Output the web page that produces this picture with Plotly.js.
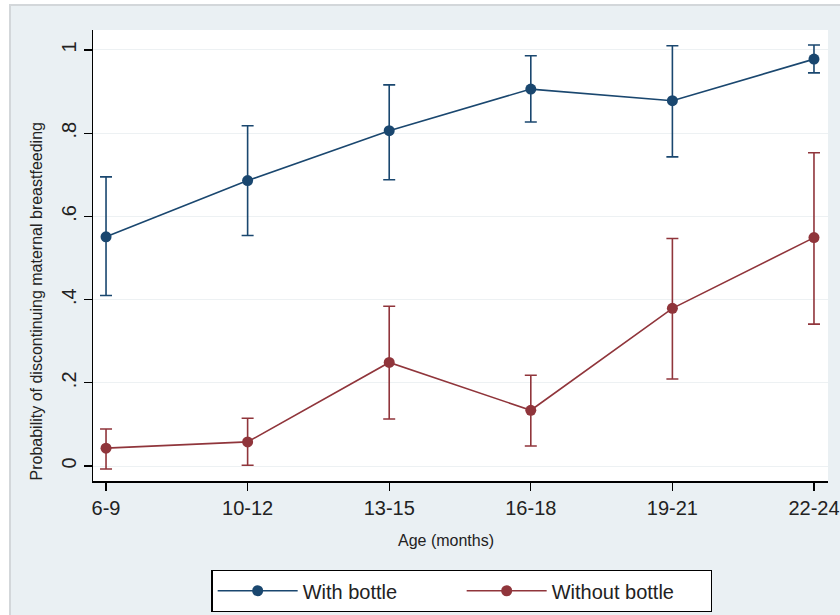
<!DOCTYPE html>
<html>
<head>
<meta charset="utf-8">
<script src="https://cdn.plot.ly/plotly-3.0.1.min.js"></script>
<style>
html,body{margin:0;padding:0;background:#ffffff;width:840px;height:615px;overflow:hidden;}
#frame{position:absolute;left:9px;top:4px;width:831px;height:611px;border-top:2px solid #d3d7da;border-left:2px solid #d3d7da;box-sizing:border-box;}
#chart{position:absolute;left:0;top:0;width:829px;height:609px;}
</style>
</head>
<body>
<div id="frame"><div id="chart"></div></div>
<script>
var categories = ["6-9", "10-12", "13-15", "16-18", "19-21", "22-24"];
var withBottle = [0.551, 0.686, 0.806, 0.906, 0.878, 0.978];
var withBottleUpper = [0.695, 0.818, 0.916, 0.986, 1.010, 1.012];
var withBottleLower = [0.410, 0.554, 0.688, 0.827, 0.743, 0.945];
var withoutBottle = [0.043, 0.058, 0.249, 0.134, 0.379, 0.549];
var withoutBottleUpper = [0.089, 0.115, 0.384, 0.218, 0.547, 0.753];
var withoutBottleLower = [-0.007, 0.002, 0.113, 0.048, 0.209, 0.341];
var yTickVals = [0, 0.2, 0.4, 0.6, 0.8, 1];
var yTickText = ["0", ".2", ".4", ".6", ".8", "1"];
var xTitle = "Age (months)";
var yTitle = "Probability of discontinuing maternal breastfeeding";

var xIdx = categories.map(function(c, i){ return i; });
function plus(v, u){ return u.map(function(x, i){ return x - v[i]; }); }
function minus(v, l){ return l.map(function(x, i){ return v[i] - x; }); }

var navy = "#1a476f", maroon = "#90353b";

var traces = [
  {
    x: xIdx, y: withBottle, name: "With bottle", type: "scatter", mode: "lines+markers",
    line: {color: navy, width: 1.6}, marker: {color: navy, size: 11},
    error_y: {type: "data", symmetric: false, array: plus(withBottle, withBottleUpper),
      arrayminus: minus(withBottle, withBottleLower), color: navy, thickness: 1.6, width: 6}
  },
  {
    x: xIdx, y: withoutBottle, name: "Without bottle", type: "scatter", mode: "lines+markers",
    line: {color: maroon, width: 1.6}, marker: {color: maroon, size: 11},
    error_y: {type: "data", symmetric: false, array: plus(withoutBottle, withoutBottleUpper),
      arrayminus: minus(withoutBottle, withoutBottleLower), color: maroon, thickness: 1.6, width: 6}
  }
];

var layout = {
  width: 829, height: 609,
  paper_bgcolor: "#eaf0f3", plot_bgcolor: "#ffffff",
  margin: {l: 82, r: 12, t: 24, b: 134},
  font: {family: "Liberation Sans, Arial, sans-serif", color: "#222"},
  xaxis: {
    range: [-0.092, 5.099], tickvals: xIdx, ticktext: categories,
    showgrid: false, zeroline: false, showline: true, linecolor: "#000", linewidth: 1.5,
    ticks: "outside", ticklen: 8, tickwidth: 1.3, tickcolor: "#000",
    tickfont: {size: 20, color: "#222"}, automargin: false
  },
  yaxis: {
    range: [-0.036, 1.048], tickvals: yTickVals, ticktext: yTickText, tickangle: -90,
    showgrid: true, gridcolor: "#edf1f3", gridwidth: 1, zeroline: false,
    showline: true, linecolor: "#000", linewidth: 1.5,
    ticks: "outside", ticklen: 8, tickwidth: 1.3, tickcolor: "#000",
    tickfont: {size: 20, color: "#222"}, automargin: false
  },
  annotations: [
    {text: xTitle, xref: "paper", yref: "paper", x: 0.480, y: -0.133,
      xanchor: "center", yanchor: "middle", showarrow: false, font: {size: 16, color: "#222"}},
    {text: yTitle, xref: "paper", yref: "paper", x: -0.0762, y: 0.398, textangle: -90,
      xanchor: "center", yanchor: "middle", showarrow: false, font: {size: 16, color: "#222"}}
  ],
  showlegend: true,
  legend: {
    orientation: "h", x: 0.502, xanchor: "center", yref: "container", y: 0.0738, yanchor: "top",
    bgcolor: "#ffffff", bordercolor: "#000", borderwidth: 1.2,
    font: {size: 20, color: "#222"}, itemwidth: 80,
    entrywidth: 154, entrywidthmode: "pixels"
  }
};

Plotly.newPlot("chart", traces, layout, {displayModeBar: false, staticPlot: true});
</script>
</body>
</html>
